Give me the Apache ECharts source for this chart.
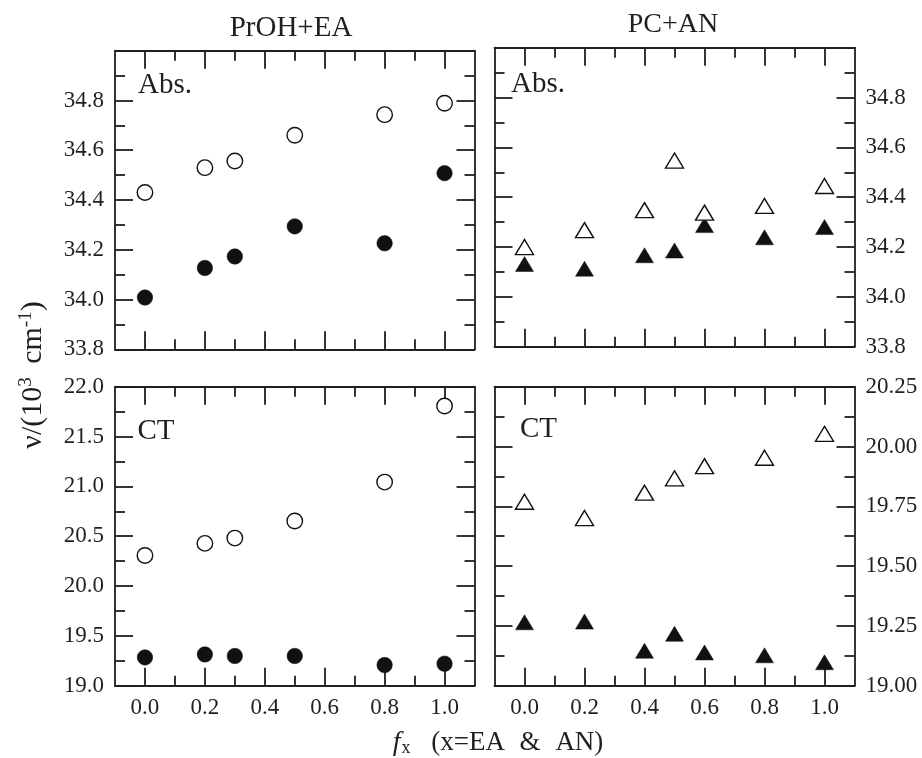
<!DOCTYPE html>
<html>
<head>
<meta charset="utf-8">
<script src="https://cdn.jsdelivr.net/npm/echarts@6/dist/echarts.min.js"></script>
<style>
html,body{margin:0;padding:0;background:#fff;}
#chart{width:922px;height:758px;}
</style>
</head>
<body>
<div id="chart"></div>
<script>
// ---- data ----
const xPrOH = [0.0, 0.2, 0.3, 0.5, 0.8, 1.0];
const absPrOHOpen   = [34.430, 34.530, 34.557, 34.660, 34.743, 34.789];
const absPrOHFilled = [34.008, 34.127, 34.173, 34.294, 34.226, 34.508];
const ctPrOHOpen    = [20.307, 20.428, 20.481, 20.652, 21.043, 21.806];
const ctPrOHFilled  = [19.284, 19.314, 19.298, 19.298, 19.207, 19.221];

const xPCAN = [0.0, 0.2, 0.4, 0.5, 0.6, 0.8, 1.0];
const absPCANOpen   = [34.200, 34.268, 34.348, 34.547, 34.338, 34.365, 34.445];
const absPCANFilled = [34.132, 34.113, 34.167, 34.186, 34.288, 34.239, 34.280];
const ctPCANOpen    = [19.769, 19.701, 19.807, 19.867, 19.918, 19.953, 20.053];
const ctPCANFilled  = [19.265, 19.268, 19.146, 19.217, 19.139, 19.127, 19.098];

// tick labels / tick positions
const xTicks = [0.0, 0.2, 0.4, 0.6, 0.8, 1.0];
const xMinorTicks = [0.1, 0.3, 0.5, 0.7, 0.9];
const absTicks = [33.8, 34.0, 34.2, 34.4, 34.6, 34.8];
const absMinorTicks = [33.9, 34.1, 34.3, 34.5, 34.7, 34.9];
const ctLeftTicks = [19.0, 19.5, 20.0, 20.5, 21.0, 21.5, 22.0];
const ctLeftMinorTicks = [19.25, 19.75, 20.25, 20.75, 21.25, 21.75];
const ctRightTicks = [19.00, 19.25, 19.50, 19.75, 20.00, 20.25];
const ctRightMinorTicks = [19.125, 19.375, 19.625, 19.875, 20.125];

const panelTitles = ['PrOH+EA', 'PC+AN'];
const panelLabels = ['Abs.', 'CT'];

// ---- build ----
const FONT = '"Liberation Serif", "Times New Roman", serif';
const INK = '#1f1f1f';
const LW = 1.8;

const grids = [
  {left: 115, top: 50.7, width: 359.5, height: 298.6},   // TL
  {left: 494.5, top: 47.7, width: 360, height: 299},     // TR
  {left: 115, top: 386.7, width: 359.5, height: 299},    // BL
  {left: 494.5, top: 386.7, width: 360, height: 299}     // BR
];

const yCfg = [
  {min: 33.8, max: 35.0, major: absTicks, minor: absMinorTicks, side: 'left', dec: 1},
  {min: 33.8, max: 35.0, major: absTicks, minor: absMinorTicks, side: 'right', dec: 1},
  {min: 19.0, max: 22.0, major: ctLeftTicks, minor: ctLeftMinorTicks, side: 'left', dec: 1},
  {min: 19.0, max: 20.25, major: ctRightTicks, minor: ctRightMinorTicks, side: 'right', dec: 2}
];

const xAxes = [], yAxes = [];
const xIdx = [], yIdx = [];

function tickAxisX(g, pos, values, len, lineShow, labels) {
  return {
    type: 'value', gridIndex: g, position: pos, min: -0.1, max: 1.1,
    axisLine: {show: lineShow, onZero: false, lineStyle: {color: INK, width: LW}},
    axisTick: {show: true, inside: true, length: len, customValues: values, lineStyle: {color: INK, width: LW}},
    axisLabel: labels ? {show: true, customValues: xTicks, margin: 11, color: INK,
      fontFamily: FONT, fontSize: 23, formatter: v => Number(v).toFixed(1)} : {show: false},
    splitLine: {show: false}, minorTick: {show: false}
  };
}
function tickAxisY(g, pos, cfg, values, len, lineShow, labels) {
  return {
    type: 'value', gridIndex: g, position: pos, min: cfg.min, max: cfg.max,
    axisLine: {show: lineShow, onZero: false, lineStyle: {color: INK, width: LW}},
    axisTick: {show: true, inside: true, length: len, customValues: values, lineStyle: {color: INK, width: LW}},
    axisLabel: labels ? {show: true, customValues: cfg.major, margin: 11, color: INK,
      fontFamily: FONT, fontSize: 23, formatter: v => Number(v).toFixed(cfg.dec)} : {show: false},
    splitLine: {show: false}, minorTick: {show: false}
  };
}

for (let g = 0; g < 4; g++) {
  const bottomLabels = g >= 2;
  xIdx.push(xAxes.length);
  xAxes.push(tickAxisX(g, 'bottom', xTicks, 18, true, bottomLabels));
  xAxes.push(tickAxisX(g, 'bottom', xMinorTicks, 10, false, false));
  xAxes.push(tickAxisX(g, 'top', xTicks, 18, true, false));
  xAxes.push(tickAxisX(g, 'top', xMinorTicks, 10, false, false));

  const c = yCfg[g];
  const other = c.side === 'left' ? 'right' : 'left';
  yIdx.push(yAxes.length);
  yAxes.push(tickAxisY(g, c.side, c, c.major, 18, true, true));
  yAxes.push(tickAxisY(g, c.side, c, c.minor, 10, false, false));
  yAxes.push(tickAxisY(g, other, c, c.major, 18, true, false));
  yAxes.push(tickAxisY(g, other, c, c.minor, 10, false, false));
}

function pairs(xs, ys) { return xs.map((x, i) => [x, ys[i]]); }

function mk(g, xs, ys, symbol, filled) {
  const isTri = symbol === 'triangle';
  return {
    type: 'scatter', xAxisIndex: xIdx[g], yAxisIndex: yIdx[g],
    data: pairs(xs, ys), symbol: symbol,
    symbolSize: isTri ? [18, 15] : 15.5,
    itemStyle: filled
      ? {color: '#111', borderColor: '#111', borderWidth: 0.5, opacity: 1}
      : {color: '#fff', borderColor: '#111', borderWidth: 1.4, opacity: 1},
    emphasis: {disabled: true}, z: filled ? 3 : 4, silent: true
  };
}

const series = [
  mk(0, xPrOH, absPrOHOpen, 'circle', false),
  mk(0, xPrOH, absPrOHFilled, 'circle', true),
  mk(1, xPCAN, absPCANOpen, 'triangle', false),
  mk(1, xPCAN, absPCANFilled, 'triangle', true),
  mk(2, xPrOH, ctPrOHOpen, 'circle', false),
  mk(2, xPrOH, ctPrOHFilled, 'circle', true),
  mk(3, xPCAN, ctPCANOpen, 'triangle', false),
  mk(3, xPCAN, ctPCANFilled, 'triangle', true)
];

function txt(x, y, text, size, align, extra) {
  return Object.assign({
    type: 'text', x: x, y: y, silent: true,
    style: {text: text, fill: INK, font: size + 'px ' + FONT, textAlign: align, textVerticalAlign: 'middle'}
  }, extra || {});
}

const graphic = [
  txt(291, 28.5, panelTitles[0], 29, 'center'),
  txt(673, 24.5, panelTitles[1], 28, 'center'),
  txt(138, 85, panelLabels[0], 29, 'left'),
  txt(511, 84, panelLabels[0], 29, 'left'),
  txt(137.5, 431, panelLabels[1], 29, 'left'),
  txt(520, 429, panelLabels[1], 29, 'left'),
  {
    type: 'text', x: 33, y: 375, rotation: Math.PI / 2, silent: true,
    style: {
      text: 'ν/(10{sup|3} {g|cm}{sup|-1})',
      fill: INK, font: '30px ' + FONT, textAlign: 'center', textVerticalAlign: 'middle',
      rich: {
        sup: {fontSize: 19, fontFamily: FONT, verticalAlign: 'top', padding: [0, 0, 13, 0], fill: INK},
        g: {fontSize: 30, fontFamily: FONT, padding: [0, 0, 0, 6], fill: INK}
      }
    }
  },
  {
    type: 'text', x: 498, y: 743, silent: true,
    style: {
      text: '{i|f}{sub|x} {p|(x=EA} {a|&} {n|AN)}',
      fill: INK, font: '27px ' + FONT, textAlign: 'center', textVerticalAlign: 'middle',
      rich: {
        i: {fontSize: 28, fontFamily: FONT, fontStyle: 'italic', fill: INK},
        sub: {fontSize: 18, fontFamily: FONT, padding: [10, 0, 0, 1], fill: INK},
        p: {fontSize: 27, fontFamily: FONT, padding: [0, 0, 0, 14], fill: INK},
        a: {fontSize: 27, fontFamily: FONT, padding: [0, 8, 0, 8], fill: INK},
        n: {fontSize: 27, fontFamily: FONT, padding: [0, 0, 0, 0], fill: INK}
      }
    }
  }
];

const chart = echarts.init(document.getElementById('chart'), null, {renderer: 'canvas'});
chart.setOption({
  animation: false,
  backgroundColor: '#fff',
  grid: grids,
  xAxis: xAxes,
  yAxis: yAxes,
  series: series,
  graphic: graphic
});
</script>
</body>
</html>
